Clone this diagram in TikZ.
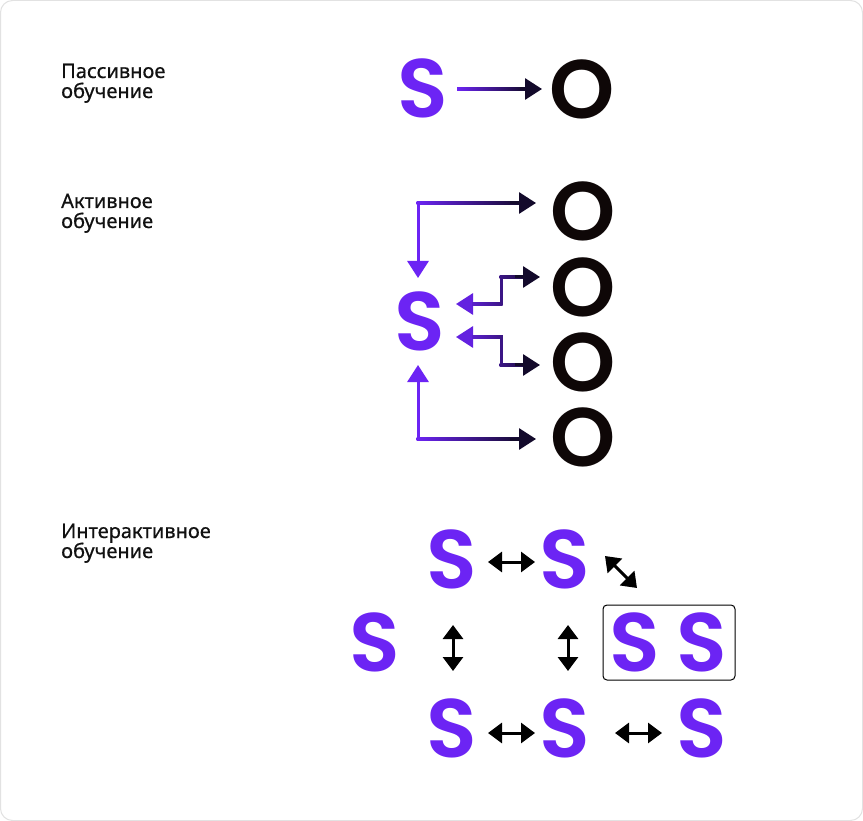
\documentclass[tikz,border=0pt]{standalone}
\usepackage{fontspec}
\setmainfont{Noto Sans}[FakeBold=0.6]
\newfontfamily\bigfont{Poppins SemiBold}
\usetikzlibrary{arrows.meta}
\definecolor{pp}{HTML}{6C24F4}
\definecolor{dk}{HTML}{130A2B}
\definecolor{ok}{HTML}{0E0707}
\definecolor{txt}{HTML}{111111}
\definecolor{frame}{HTML}{E2E2E2}
\begin{document}
\begin{tikzpicture}[x=1pt,y=-1pt,
  big/.style={font=\bigfont\fontsize{83}{83}\selectfont, inner sep=0pt, text height=58pt, text depth=0pt},
  sletter/.style={big, text=pp},
  oletter/.style={big, text=ok},
  lbl/.style={font=\fontsize{20}{20}\selectfont, anchor=base west, inner sep=0pt, text=txt},
  gtip/.style={-{Triangle[length=17pt,width=21pt]}},
  conn/.style={line width=3pt},
  dbl/.style={line width=3pt, black, {Triangle[length=14pt,width=20pt]}-{Triangle[length=14pt,width=20pt]}},
  sbox/.style={draw=black, line width=1pt, rounded corners=4pt}]
\useasboundingbox (0,0) rectangle (863,821);
\draw[frame, fill=white, line width=1pt, rounded corners=12pt] (0.5,0.5) rectangle (862.5,820.5);

% labels
\node[lbl] (l1a) at (61,78) {Пассивное};
\node[lbl] (l1b) at (61,98) {обучение};
\node[lbl] (l2a) at (61,208) {Активное};
\node[lbl] (l2b) at (61,228) {обучение};
\node[lbl] (l3a) at (61,538) {Интерактивное};
\node[lbl] (l3b) at (61,558) {обучение};

% passive
\node[sletter] (ps) at (423,89) {S};
\node[oletter] (po) at (582,89.5) {O};
\shade[left color=pp, right color=dk] (457,87.5) rectangle (526,90.5);
\draw[conn, dk, gtip] (520,89) -- (542,89);

% active
\node[sletter] (as) at (419.5,322) {S};
\node[oletter] (ao1) at (583,212) {O};
\node[oletter] (ao2) at (583,287.5) {O};
\node[oletter] (ao3) at (583,362.5) {O};
\node[oletter] (ao4) at (583,437) {O};

% path 1
\fill[pp] (416.5,201.5) rectangle (419.5,262);
\draw[conn, pp, gtip] (418,250) -- (418,278);
\shade[left color=pp, right color=dk] (416.5,201.5) rectangle (522,204.5);
\draw[conn, dk, gtip] (510,203) -- (536,203);

% path 2
\draw[conn, dk!10!pp, gtip] (480,304) -- (456,304);
\shade[left color=dk!20!pp, right color=dk!55!pp] (472,302.5) rectangle (502.5,305.5);
\fill[dk!55!pp] (499.5,275.5) rectangle (502.5,305.5);
\shade[left color=dk!55!pp, right color=dk!85!pp] (499.5,275.5) rectangle (524,278.5);
\draw[conn, dk, gtip] (515,277) -- (540,277);

% path 3
\draw[conn, dk!10!pp, gtip] (480,337) -- (456,337);
\shade[left color=dk!20!pp, right color=dk!55!pp] (472,335.5) rectangle (502.5,338.5);
\fill[dk!55!pp] (499.5,335.5) rectangle (502.5,366.5);
\shade[left color=dk!55!pp, right color=dk!85!pp] (499.5,363.5) rectangle (524,366.5);
\draw[conn, dk, gtip] (515,365) -- (540,365);

% path 4
\draw[conn, pp, gtip] (418,393) -- (418,365);
\fill[pp] (416.5,380) rectangle (419.5,440.5);
\shade[left color=pp, right color=dk] (416.5,437.5) rectangle (522,440.5);
\draw[conn, dk, gtip] (510,439) -- (536,439);

% interactive
\node[sletter] (i1) at (452,559) {S};
\node[sletter] (i2) at (565,559) {S};
\node[sletter] (i3) at (375,642) {S};
\node[sletter] (i4) at (635,642) {S};
\node[sletter] (i5) at (701.5,642) {S};
\node[sletter] (i6) at (452,728) {S};
\node[sletter] (i7) at (565,728) {S};
\node[sletter] (i8) at (701.5,728) {S};
\draw[sbox] (603,605) rectangle (735,680);

\draw[dbl] (488,562) -- (535,562);
\draw[dbl] (605,556) -- (637,588);
\draw[dbl] (453,625) -- (453,671);
\draw[dbl] (568,625) -- (568,671);
\draw[dbl] (488,733) -- (535,733);
\draw[dbl] (615,733) -- (662,733);
\end{tikzpicture}
\end{document}
